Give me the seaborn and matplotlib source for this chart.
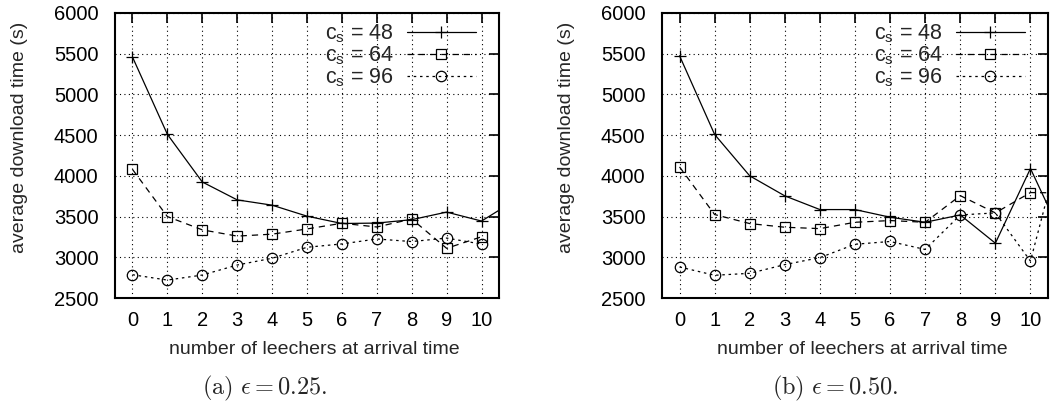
import matplotlib
matplotlib.use('Agg')
import matplotlib.pyplot as plt
import seaborn as sns
import pandas as pd
import numpy as np

# leechers at arrival time (point 11 sits outside the axis range and is clipped)
leechers = [0, 1, 2, 3, 4, 5, 6, 7, 8, 9, 10, 11]

# panel (a) eps = 0.25
a_cs48 = [5460, 4510, 3925, 3705, 3640, 3505, 3415, 3420, 3462, 3555, 3445, 3710]
a_cs64 = [4080, 3500, 3337, 3260, 3284, 3348, 3418, 3372, 3470, 3110, 3252, np.nan]
a_cs96 = [2786, 2720, 2782, 2905, 2988, 3123, 3164, 3225, 3193, 3236, 3162, np.nan]

# panel (b) eps = 0.50
b_cs48 = [5475, 4508, 4000, 3754, 3586, 3586, 3492, 3430, 3520, 3173, 4090, 3170]
b_cs64 = [4110, 3525, 3414, 3369, 3352, 3430, 3451, 3430, 3757, 3545, 3795, 3790]
b_cs96 = [2881, 2779, 2803, 2910, 2996, 3160, 3194, 3096, 3520, 3545, 2953, 4600]

labels = [r'c$_{\rm s}$ = 48', r'c$_{\rm s}$ = 64', r'c$_{\rm s}$ = 96']
captions = [r'$\mathrm{(a)}\ \epsilon = 0.25.$', r'$\mathrm{(b)}\ \epsilon = 0.50.$']

sns.set_style('white')
plt.rcParams['font.family'] = ['Liberation Sans', 'DejaVu Sans']
plt.rcParams['mathtext.fontset'] = 'custom'
plt.rcParams['mathtext.rm'] = 'Liberation Sans'
plt.rcParams['mathtext.it'] = 'Liberation Sans:italic'
plt.rcParams['font.size'] = 14

fig = plt.figure(figsize=(10.51, 4.07), dpi=100)
ax_a = fig.add_axes([115/1051, 1-298/407, 384/1051, 285/407])
ax_b = fig.add_axes([662/1051, 1-298/407, 386/1051, 285/407])

styles = [
    dict(linestyle='-', marker='+', markersize=9, markeredgewidth=0.9),
    dict(linestyle=(0, (5, 4)), marker='s', markersize=7.5, markeredgewidth=0.9),
    dict(linestyle=(0, (2, 3)), marker='o', markersize=7.5, markeredgewidth=0.9),
]

for ax, series, cap, cx in [(ax_a, [a_cs48, a_cs64, a_cs96], captions[0], 265/1051),
                            (ax_b, [b_cs48, b_cs64, b_cs96], captions[1], 835/1051)]:
    for vals, lab, st in zip(series, labels, styles):
        df = pd.DataFrame({'x': leechers, 'y': vals}).dropna()
        sns.lineplot(data=df, x='x', y='y', ax=ax, color='black', linewidth=0.9,
                     markerfacecolor='none', markeredgecolor='black', label=lab, **st)
    ax.set_xlim(-0.5, 10.5)
    ax.set_ylim(2500, 6000)
    ax.set_xticks(range(0, 11))
    ax.set_yticks(range(2500, 6001, 500))
    ax.grid(True, color='black', linestyle=(0, (1, 3)), linewidth=0.8)
    ax.tick_params(direction='in', top=True, right=True, length=7, width=1.2,
                   labelsize=14.5, colors='black')
    ax.tick_params(axis='x', pad=9)
    ax.tick_params(axis='y', pad=12)
    for sp in ax.spines.values():
        sp.set_color('black')
        sp.set_linewidth(1.5)
    ax.set_xlabel('number of leechers at arrival time', fontsize=14)
    ax.set_ylabel('average download time (s)', fontsize=14)
    ax.xaxis.set_label_coords(0.52, -0.15)
    ax.yaxis.set_label_coords(-0.226, 0.565)
    ax.legend(loc='upper right', frameon=False, markerfirst=False, handlelength=3.2,
              fontsize=15.5, labelspacing=-0.03, borderaxespad=0.0, handletextpad=0.6,
              borderpad=0.1, bbox_to_anchor=(0.945, 0.975))
    fig.text(cx, 1-388/407, cap, ha='center', va='center', fontsize=17.5,
             math_fontfamily='cm')

fig.savefig('out.png', dpi=100)
